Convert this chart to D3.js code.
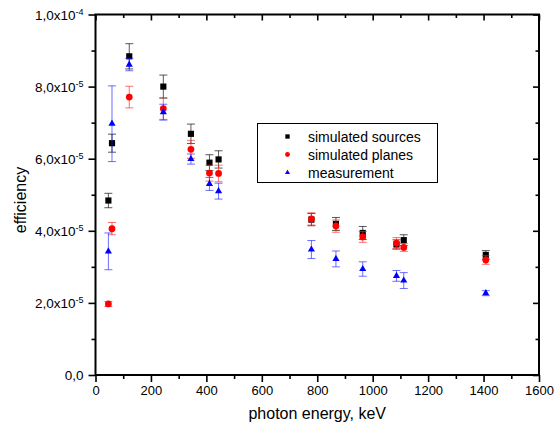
<!DOCTYPE html>
<html>
<head>
<meta charset="utf-8">
<script src="https://cdn.jsdelivr.net/npm/d3@7"></script>
<style>
  body { margin: 0; background: #fff; }
  text { font-family: "Liberation Sans", Arial, sans-serif; }
</style>
</head>
<body>
<svg id="chart" width="559" height="428"></svg>
<script>
// photon energies, keV
var energy = [46.5, 59.5, 121.8, 244.7, 344.3, 411.1, 444.0, 778.9, 867.4, 964.1, 1085.8, 1112.1, 1408.0];

// efficiencies, in units of 1e-5
var sources     = [4.84, 6.43, 8.84, 8.00, 6.69, 5.89, 5.98, 4.31, 4.19, 3.94, 3.62, 3.74, 3.33];
var sourcesErr  = [0.20, 0.25, 0.35, 0.32, 0.27, 0.22, 0.24, 0.17, 0.18, 0.18, 0.13, 0.15, 0.12];
var planes      = [1.97, 4.06, 7.71, 7.39, 6.26, 5.60, 5.59, 4.33, 4.13, 3.83, 3.66, 3.54, 3.19];
var planesErr   = [0.07, 0.17, 0.30, 0.30, 0.25, 0.22, 0.23, 0.17, 0.17, 0.15, 0.15, 0.11, 0.12];
var measured    = [3.43, 6.97, 8.61, 7.29, 5.99, 5.30, 5.10, 3.48, 3.22, 2.94, 2.75, 2.62, 2.27];
var measuredErr = [0.51, 1.05, 0.17, 0.22, 0.14, 0.18, 0.22, 0.25, 0.22, 0.20, 0.15, 0.22, 0.07];

var seriesNames = ['simulated sources', 'simulated planes', 'measurement'];

var xTicks = [0, 200, 400, 600, 800, 1000, 1200, 1400, 1600];
var yTicks = [0, 2, 4, 6, 8, 10];
var yTickLabels = [['0,0', ''], ['2,0x10', '-5'], ['4,0x10', '-5'], ['6,0x10', '-5'], ['8,0x10', '-5'], ['1,0x10', '-4']];

var titleText = 'Dependence of efficiency on photon energy';

var svg = d3.select('#chart');
var plotL = 95.5, plotR = 539, plotT = 14.5, plotB = 375;

var x = d3.scaleLinear().domain([0, 1600]).range([plotL, plotR]);
var y = d3.scaleLinear().domain([0, 10]).range([plotB, plotT]);

// title, mostly cut off by the top edge
var title = svg.append('text')
  .attr('y', -3)
  .style('font-size', '15px')
  .style('font-weight', 'bold')
  .text(titleText);
var pIdx = titleText.indexOf('photon');
var off = title.node().getSubStringLength(0, pIdx);
title.attr('x', 394 - off);

// axes
function styleAxis(g) {
  g.select('.domain').remove();
  g.selectAll('.tick line').attr('stroke', '#000').attr('stroke-width', 1.6);
}

var xMinor = d3.range(100, 1600, 200);
var yMinor = [1, 3, 5, 7, 9];

svg.append('g').attr('transform', 'translate(0,' + plotB + ')')
  .call(d3.axisBottom(x).tickValues(xTicks).tickSize(7).tickPadding(4).tickFormat(d3.format('d')))
  .call(styleAxis)
  .selectAll('text').style('font-size', '13px').style('font-family', 'Liberation Sans, Arial, sans-serif').attr('fill', '#000');
svg.append('g').attr('transform', 'translate(0,' + plotB + ')')
  .call(d3.axisBottom(x).tickValues(xMinor).tickSize(4).tickFormat(''))
  .call(styleAxis);
svg.append('g').attr('transform', 'translate(0,' + plotT + ')')
  .call(d3.axisTop(x).tickValues(xTicks).tickSize(-6).tickFormat(''))
  .call(styleAxis);
svg.append('g').attr('transform', 'translate(0,' + plotT + ')')
  .call(d3.axisTop(x).tickValues(xMinor).tickSize(-3.5).tickFormat(''))
  .call(styleAxis);

var yAxisG = svg.append('g').attr('transform', 'translate(' + plotL + ',0)')
  .call(d3.axisLeft(y).tickValues(yTicks).tickSize(7).tickFormat(''))
  .call(styleAxis);
svg.append('g').attr('transform', 'translate(' + plotL + ',0)')
  .call(d3.axisLeft(y).tickValues(yMinor).tickSize(4).tickFormat(''))
  .call(styleAxis);
svg.append('g').attr('transform', 'translate(' + plotR + ',0)')
  .call(d3.axisRight(y).tickValues(yTicks).tickSize(-6).tickFormat(''))
  .call(styleAxis);
svg.append('g').attr('transform', 'translate(' + plotR + ',0)')
  .call(d3.axisRight(y).tickValues(yMinor).tickSize(-3.5).tickFormat(''))
  .call(styleAxis);

yAxisG.selectAll('.tick text').each(function(d, i) {
  var t = d3.select(this).attr('fill', '#000').attr('x', -12).attr('dy', '0.36em')
    .style('font-size', '13.5px').style('font-family', 'Liberation Sans, Arial, sans-serif');
  t.text(null);
  t.append('tspan').text(yTickLabels[i][0]);
  if (yTickLabels[i][1]) {
    t.append('tspan').attr('dy', '-0.55em').style('font-size', '9px').text(yTickLabels[i][1]);
  }
});

// frame
svg.append('rect')
  .attr('x', plotL).attr('y', plotT)
  .attr('width', plotR - plotL).attr('height', plotB - plotT)
  .attr('fill', 'none').attr('stroke', '#000').attr('stroke-width', 2);

// axis titles
svg.append('text')
  .attr('x', (plotL + plotR) / 2).attr('y', 419)
  .attr('text-anchor', 'middle')
  .style('font-size', '16px')
  .text('photon energy, keV');
svg.append('text')
  .attr('transform', 'translate(26,200) rotate(-90)')
  .attr('text-anchor', 'middle')
  .style('font-size', '16px')
  .text('efficiency');

// series
var series = [
  { vals: sources,  errs: sourcesErr,  color: '#000000', bar: '#000000', symbol: d3.symbolSquare,   size: 38 },
  { vals: planes,   errs: planesErr,   color: '#ff0000', bar: '#ff2020', symbol: d3.symbolCircle,   size: 36 },
  { vals: measured, errs: measuredErr, color: '#0000ff', bar: '#2020ff', symbol: d3.symbolTriangle, size: 22 }
];

series.forEach(function(s) {
  var pts = energy.map(function(e, i) { return { e: e, v: s.vals[i], err: s.errs[i] }; });
  var g = svg.append('g');
  var eb = g.selectAll('g.err').data(pts).enter().append('g')
    .attr('stroke', s.bar).attr('stroke-opacity', 0.65).attr('stroke-width', 1);
  eb.append('line')
    .attr('x1', function(d) { return x(d.e); }).attr('x2', function(d) { return x(d.e); })
    .attr('y1', function(d) { return y(d.v - d.err); }).attr('y2', function(d) { return y(d.v + d.err); });
  eb.append('line')
    .attr('x1', function(d) { return x(d.e) - 4; }).attr('x2', function(d) { return x(d.e) + 4; })
    .attr('y1', function(d) { return y(d.v + d.err); }).attr('y2', function(d) { return y(d.v + d.err); });
  eb.append('line')
    .attr('x1', function(d) { return x(d.e) - 4; }).attr('x2', function(d) { return x(d.e) + 4; })
    .attr('y1', function(d) { return y(d.v - d.err); }).attr('y2', function(d) { return y(d.v - d.err); });
  g.selectAll('path').data(pts).enter().append('path')
    .attr('d', d3.symbol().type(s.symbol).size(s.size))
    .attr('transform', function(d) { return 'translate(' + x(d.e) + ',' + y(d.v) + ')'; })
    .attr('fill', s.color);
});

// legend
var legend = svg.append('g');
legend.append('rect')
  .attr('x', 257.5).attr('y', 123.5).attr('width', 180).attr('height', 59)
  .attr('fill', '#fff').attr('stroke', '#000').attr('stroke-width', 1);
var rowY = [136.5, 154.5, 172.5];
series.forEach(function(s, i) {
  legend.append('path')
    .attr('d', d3.symbol().type(s.symbol).size(s.size * 0.5))
    .attr('transform', 'translate(287.5,' + rowY[i] + ')')
    .attr('fill', s.color);
  legend.append('text')
    .attr('x', 308).attr('y', rowY[i]).attr('dy', '0.36em')
    .style('font-size', '14px')
    .text(seriesNames[i]);
});
</script>
</body>
</html>
